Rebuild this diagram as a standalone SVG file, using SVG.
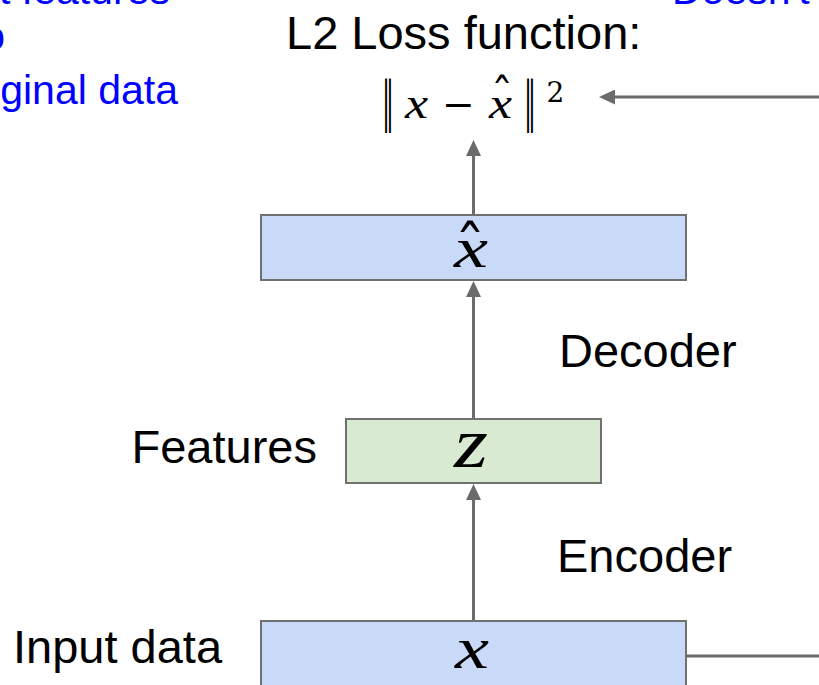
<svg xmlns="http://www.w3.org/2000/svg" width="819" height="685" viewBox="0 0 819 685">
<style>
.sans{font-family:"Liberation Sans",Arial,sans-serif;font-size:47px;fill:#000}
.blue{font-family:"Liberation Sans",Arial,sans-serif;font-size:41px;fill:#0000ff}
.math{font-family:"Liberation Serif","Times New Roman",serif;font-style:italic;fill:#000}
.mr{font-family:"DejaVu Serif","Liberation Serif",serif;fill:#000}
.box{stroke:#707070;stroke-width:2}
.blueBox{fill:#c9daf8}
.greenBox{fill:#d9ead3}
.conn{stroke:#6b6b6b;stroke-width:3;fill:none}
</style>
<defs>
<marker id="ah" markerUnits="userSpaceOnUse" markerWidth="16" markerHeight="15" refX="4" refY="7.5" orient="auto">
<path d="M0,0 L16,7.5 L0,15 z" fill="#6b6b6b"/>
</marker>
</defs>
<rect width="819" height="685" fill="#ffffff"/>

<g id="note-left">
<text class="blue" x="170" y="4" text-anchor="end">t features</text>
<text class="blue" x="5" y="50" text-anchor="end">o</text>
<text class="blue" x="178" y="104" text-anchor="end">ginal data</text>
</g>
<g id="note-right">
<text class="blue" x="672" y="4">Doesn't</text>
</g>

<g id="loss">
<text class="sans" x="286" y="49">L2 Loss function:</text>
<text class="mr" x="388" y="120" font-size="54" text-anchor="middle" textLength="12" lengthAdjust="spacingAndGlyphs">‖</text>
<text class="math" x="405" y="118" font-size="44" textLength="23" lengthAdjust="spacingAndGlyphs">x</text>
<text class="mr" x="442" y="118" font-size="40" textLength="33" lengthAdjust="spacingAndGlyphs">−</text>
<text class="math" x="489" y="118" font-size="44" textLength="23" lengthAdjust="spacingAndGlyphs">x</text>
<text class="mr" x="502" y="111" font-size="44" text-anchor="middle">ˆ</text>
<text class="mr" x="530" y="120" font-size="54" text-anchor="middle" textLength="12" lengthAdjust="spacingAndGlyphs">‖</text>
<text class="mr" x="555.5" y="102" font-size="28" text-anchor="middle">2</text>
</g>

<g id="connectors">
<line class="conn" x1="473.5" y1="215" x2="473.5" y2="152" marker-end="url(#ah)"/>
<line class="conn" x1="473.5" y1="419" x2="473.5" y2="293" marker-end="url(#ah)"/>
<line class="conn" x1="473.5" y1="621" x2="473.5" y2="496" marker-end="url(#ah)"/>
<line class="conn" x1="819" y1="97" x2="611" y2="97" marker-end="url(#ah)"/>
<line class="conn" x1="686" y1="656" x2="819" y2="656"/>
</g>

<g id="node-xhat">
<rect class="box blueBox" x="261" y="215" width="425" height="65"/>
<text class="math" x="454" y="267" font-size="58" textLength="34" lengthAdjust="spacingAndGlyphs">x</text>
<text class="mr" x="470" y="270" font-size="62" text-anchor="middle">ˆ</text>
</g>

<g id="node-z">
<rect class="box greenBox" x="346" y="419" width="255" height="64"/>
<text class="math" x="454" y="467" font-size="72" textLength="34" lengthAdjust="spacingAndGlyphs">z</text>
</g>
<text class="sans" x="317" y="463" text-anchor="end">Features</text>
<text class="sans" x="559" y="367">Decoder</text>
<text class="sans" x="557" y="572">Encoder</text>

<g id="node-x">
<rect class="box blueBox" x="261" y="621" width="425" height="80"/>
<text class="math" x="455" y="668" font-size="60" textLength="34" lengthAdjust="spacingAndGlyphs">x</text>
</g>
<text class="sans" x="13" y="663">Input data</text>
</svg>
